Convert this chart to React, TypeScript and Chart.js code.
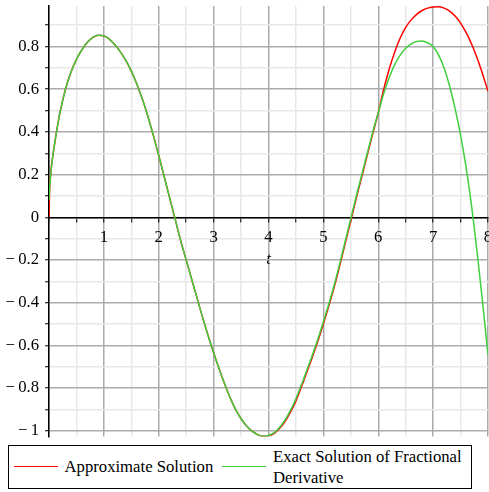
import React, { useEffect, useRef } from "react";
import { Chart, registerables } from "chart.js";

Chart.register(...registerables);

// ---- data ----
const tValues = [
  0, 0.01, 0.03, 0.06, 0.1, 0.15, 0.2, 0.3, 0.4, 0.5, 0.6, 0.7, 0.8, 0.9,
  1.0, 1.1, 1.2, 1.3, 1.4, 1.5, 1.6, 1.7, 1.8, 1.9,
  2.0, 2.1, 2.2, 2.3, 2.4, 2.5, 2.6, 2.7, 2.8, 2.9,
  3.0, 3.1, 3.2, 3.3, 3.4, 3.5, 3.6, 3.7, 3.8, 3.9,
  4.0, 4.1, 4.2, 4.3, 4.4, 4.5, 4.6, 4.7, 4.8, 4.9,
  5.0, 5.1, 5.2, 5.3, 5.4, 5.5, 5.6, 5.7, 5.8, 5.9,
  6.0, 6.1, 6.2, 6.3, 6.4, 6.5, 6.6, 6.7, 6.8, 6.9,
  7.0, 7.1, 7.2, 7.3, 7.4, 7.5, 7.6, 7.7, 7.8, 7.9,
  8.0,
];

const approxValues = [
  0, 0.12, 0.2, 0.27, 0.34, 0.42, 0.49, 0.6, 0.68, 0.74, 0.785, 0.82, 0.843, 0.853,
  0.85, 0.835, 0.808, 0.775, 0.735, 0.685, 0.625, 0.555, 0.475, 0.385,
  0.29, 0.19, 0.09, -0.01, -0.11, -0.2, -0.29, -0.38, -0.47, -0.555,
  -0.635, -0.71, -0.78, -0.845, -0.9, -0.944, -0.978, -1.002, -1.018, -1.026,
  -1.024, -1.013, -0.99, -0.957, -0.913, -0.86, -0.795, -0.725, -0.655, -0.58,
  -0.5, -0.415, -0.325, -0.225, -0.12, -0.015, 0.09, 0.19, 0.292, 0.392,
  0.49, 0.6, 0.695, 0.775, 0.84, 0.89, 0.925, 0.951, 0.969, 0.98,
  0.985, 0.986, 0.98, 0.966, 0.943, 0.91, 0.866, 0.812, 0.748, 0.673,
  0.59,
];

const exactValues = [
  0.08, 0.13, 0.2, 0.27, 0.34, 0.42, 0.49, 0.6, 0.68, 0.74, 0.785, 0.82, 0.843, 0.853,
  0.85, 0.835, 0.808, 0.775, 0.735, 0.685, 0.625, 0.555, 0.475, 0.385,
  0.29, 0.19, 0.09, -0.01, -0.11, -0.2, -0.29, -0.38, -0.47, -0.555,
  -0.635, -0.71, -0.78, -0.845, -0.9, -0.944, -0.978, -1.002, -1.018, -1.026,
  -1.022, -1.01, -0.985, -0.95, -0.905, -0.85, -0.785, -0.715, -0.645, -0.57,
  -0.49, -0.405, -0.315, -0.215, -0.11, -0.005, 0.1, 0.2, 0.3, 0.4,
  0.49, 0.58, 0.655, 0.715, 0.76, 0.792, 0.813, 0.824, 0.826, 0.818,
  0.8, 0.76, 0.7, 0.615, 0.51, 0.385, 0.235, 0.055, -0.16, -0.395,
  -0.645,
];

const seriesLabels = ["Approximate Solution", "Exact Solution of Fractional Derivative"];
const seriesColors = ["#ff0000", "#3fcf3f"];

const xLabelValues = [1, 2, 3, 4, 5, 6, 7, 8];
const xLabelTexts = ["1", "2", "3", "4", "5", "6", "7", "8"];
const yLabelValues = [-1, -0.8, -0.6, -0.4, -0.2, 0, 0.2, 0.4, 0.6, 0.8];
const yLabelTexts = [
  "\u2212\u20091",
  "\u2212\u20090.8",
  "\u2212\u20090.6",
  "\u2212\u20090.4",
  "\u2212\u20090.2",
  "0",
  "0.2",
  "0.4",
  "0.6",
  "0.8",
];
const xAxisTitle = "t";

const FAMILY = "Liberation Serif";
const FONT = '"Liberation Serif", "Times New Roman", serif';
const FONT_SIZE = 16.7;
const MAJOR = "#ababab";
const MINOR = "#e8e8e8";

function findLabel(v: number, vals: number[], texts: string[]) {
  for (let i = 0; i < vals.length; i++) {
    if (Math.abs(vals[i] - v) < 1e-6) return texts[i];
  }
  return "";
}

function isMultiple(v: number, step: number) {
  const r = v / step;
  return Math.abs(r - Math.round(r)) < 1e-6;
}

export default function App() {
  const canvasRef = useRef<HTMLCanvasElement | null>(null);

  useEffect(() => {
    const canvas = canvasRef.current;
    if (!canvas) return;
    let chart: Chart | null = null;
    let cancelled = false;

    const build = () => {
      if (cancelled || chart) return;
      chart = new Chart(canvas, {
        type: "line",
        data: {
          datasets: [
            {
              label: seriesLabels[1],
              data: tValues.map((t, i) => ({ x: t, y: exactValues[i] })),
              borderColor: seriesColors[1],
              borderWidth: 1.5,
              pointRadius: 0,
              cubicInterpolationMode: "monotone",
              fill: false,
            },
            {
              label: seriesLabels[0],
              data: tValues.map((t, i) => ({ x: t, y: approxValues[i] })),
              borderColor: seriesColors[0],
              borderWidth: 1.5,
              pointRadius: 0,
              cubicInterpolationMode: "monotone",
              fill: false,
            },
          ],
        },
        options: {
          animation: false,
          responsive: false,
          maintainAspectRatio: false,
          layout: { padding: { top: 6, right: 1, bottom: 4.5, left: 0 } },
          plugins: { legend: { display: false }, tooltip: { enabled: false } },
          scales: {
            x: {
              type: "linear",
              position: { y: 0 } as any,
              min: 0,
              max: 8,
              ticks: {
                stepSize: 0.5,
                autoSkip: false,
                maxRotation: 0,
                includeBounds: false,
                padding: 6,
                color: "#000",
                font: { family: FAMILY, size: FONT_SIZE },
                callback: (v: any) => findLabel(Number(v), xLabelValues, xLabelTexts),
              },
              grid: {
                color: (ctx: any) => (ctx.tick && isMultiple(ctx.tick.value, 1) ? MAJOR : MINOR),
                lineWidth: 1.5,
                drawTicks: true,
                tickLength: 4,
                tickColor: "#000",
                tickWidth: 1,
              },
              border: { display: true, color: "#000", width: 1.5 },
              title: {
                display: true,
                text: xAxisTitle,
                color: "#000",
                font: { family: FAMILY, size: FONT_SIZE, style: "italic" },
                padding: { top: -4, bottom: 0 },
              },
              afterFit: (scale: any) => {
                scale.paddingLeft = 0;
                scale.paddingRight = 0;
              },
            } as any,
            y: {
              type: "linear",
              min: -1.027,
              max: 0.99,
              ticks: {
                stepSize: 0.1,
                autoSkip: false,
                includeBounds: false,
                padding: 6,
                color: "#000",
                font: { family: FAMILY, size: FONT_SIZE },
                callback: (v: any) => findLabel(Number(v), yLabelValues, yLabelTexts),
              },
              grid: {
                color: (ctx: any) => (ctx.tick && isMultiple(ctx.tick.value, 0.2) ? MAJOR : MINOR),
                lineWidth: 1.5,
                drawTicks: true,
                tickLength: 4,
                tickColor: "#000",
                tickWidth: 1,
              },
              border: { display: true, color: "#000", width: 1.5 },
              afterFit: (scale: any) => {
                scale.width = 49;
                scale.paddingTop = 0;
                scale.paddingBottom = 0;
              },
            } as any,
          },
        },
      });
    };

    const fonts = (document as any).fonts;
    if (fonts && fonts.load) {
      Promise.all([
        fonts.load(`${FONT_SIZE}px "${FAMILY}"`),
        fonts.load(`italic ${FONT_SIZE}px "${FAMILY}"`),
      ])
        .catch(() => undefined)
        .then(() => build());
    } else {
      build();
    }

    return () => {
      cancelled = true;
      if (chart) chart.destroy();
    };
  }, []);

  const textStyle: React.CSSProperties = {
    position: "absolute",
    fontFamily: FONT,
    fontSize: FONT_SIZE,
    lineHeight: "21.5px",
    color: "#000",
    whiteSpace: "normal",
  };

  return (
    <div
      style={{
        position: "absolute",
        left: 0,
        top: 0,
        width: 489,
        height: 492,
        background: "#fff",
        overflow: "hidden",
      }}
    >
      <canvas
        ref={canvasRef}
        width={489}
        height={441}
        style={{ position: "absolute", left: 0, top: 0, width: 489, height: 441 }}
      />
      <div
        style={{
          position: "absolute",
          left: 8,
          top: 445,
          width: 464,
          height: 44,
          border: "1px solid #000",
          boxSizing: "border-box",
        }}
      >
        <div
          style={{
            position: "absolute",
            left: 5,
            top: 20,
            width: 44,
            height: 0,
            borderTop: `1.5px solid ${seriesColors[0]}`,
          }}
        />
        <div style={{ ...textStyle, left: 55.5, top: 9.5, whiteSpace: "nowrap" }}>{seriesLabels[0]}</div>
        <div
          style={{
            position: "absolute",
            left: 213,
            top: 20,
            width: 44,
            height: 0,
            borderTop: `1.5px solid ${seriesColors[1]}`,
          }}
        />
        <div style={{ ...textStyle, left: 264, top: -0.5, width: 200 }}>{seriesLabels[1]}</div>
      </div>
    </div>
  );
}
